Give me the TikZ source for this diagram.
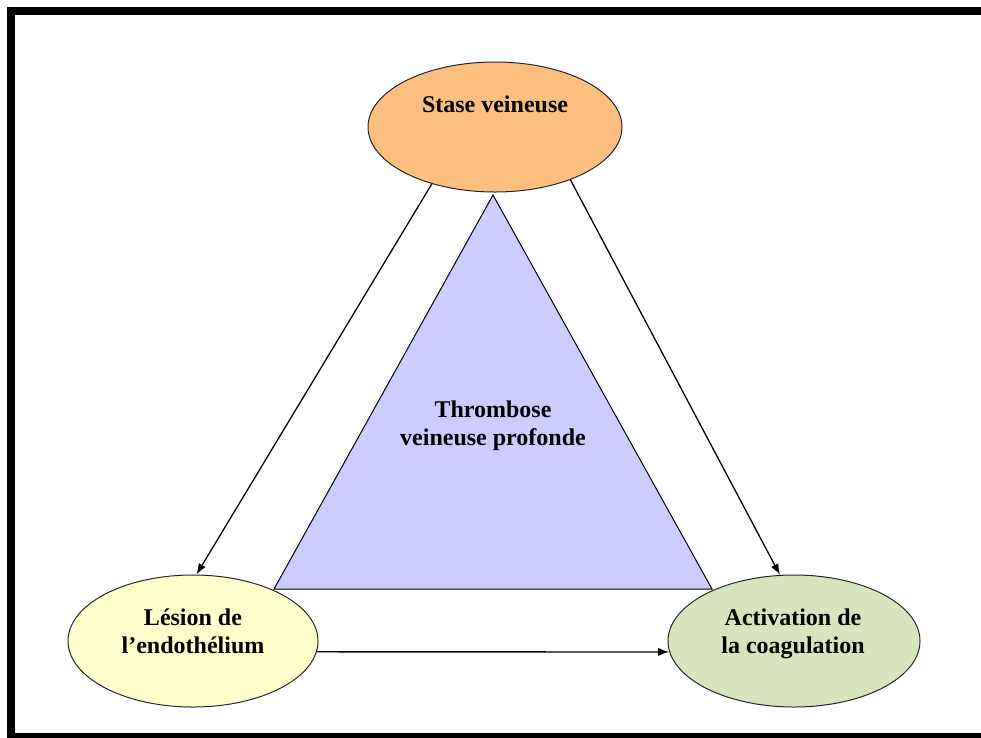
\documentclass[tikz,border=0pt]{standalone}
\usepackage{fontspec}
\setmainfont{Liberation Serif}
\usepackage{xcolor}
\usepackage{tikz}
\usetikzlibrary{shapes.geometric,arrows.meta}
\definecolor{orangefill}{RGB}{253,191,127}
\definecolor{yellowfill}{RGB}{255,255,204}
\definecolor{greenfill}{RGB}{215,228,189}
\definecolor{bluefill}{RGB}{204,204,255}

\begin{document}
\begin{tikzpicture}[x=1pt,y=-1pt,%
% common options for the ellipses:
cause/.style = {ellipse, draw=black!85, line width=1pt, inner sep=0,
            minimum width=252pt, minimum height=132pt},
% common options for the texts:
caption/.style = {align=center, anchor=base, inner sep=0,
            font=\bfseries\fontsize{24}{28}\selectfont},
% common options for the arrows:
link/.style = {line width=1.3pt, -{Latex[length=11pt,width=8pt]}}]
\useasboundingbox (0,0) rectangle (981,737);
\draw[line width=8pt] (11,11) rectangle (995,737);
% triangle
\coordinate (T0) at (493,195);
\coordinate (T1) at (274,589);
\coordinate (T2) at (712,589);
\draw[fill=bluefill, line width=1pt] (T0) -- (T1) -- (T2) -- cycle;
\node[caption] (tvp) at (493,445) {Thrombose\\veineuse profonde};
% causes
\node[cause,fill=orangefill,minimum width=254pt,minimum height=130pt] (stase) at (495,127) {};
\node[cause,fill=yellowfill,minimum width=250pt] (lesion) at (193,641) {};
\node[cause,fill=greenfill] (coag) at (794,641) {};
\node[caption] (stasetxt) at (495,112) {Stase veineuse};
\node[caption] (lesiontxt) at (193,653) {Lésion de\\l’endothélium};
\node[caption] (coagtxt) at (793,653) {Activation de\\la coagulation};
\draw[link] (stase.222) to (lesion.87);
\draw[link] (stase.-35) to (coag.102);
\draw[link] (lesion.-5) to (coag.185);
\end{tikzpicture}
\end{document}
